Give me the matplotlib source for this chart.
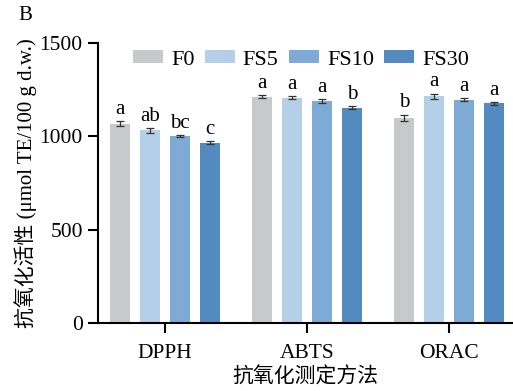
import matplotlib.pyplot as plt
import numpy as np

plt.rcParams['font.family'] = ['Liberation Serif', 'Noto Sans CJK SC']

methods = ['DPPH', 'ABTS', 'ORAC']
groups = ['F0', 'FS5', 'FS10', 'FS30']
values = {
    'F0':   [1068, 1213, 1100],
    'FS5':  [1032, 1208, 1215],
    'FS10': [1000, 1188, 1197],
    'FS30': [966, 1154, 1176],
}
errors = {
    'F0':   [14, 8, 16],
    'FS5':  [12, 6, 14],
    'FS10': [6, 10, 6],
    'FS30': [8, 8, 8],
}
letters = {
    'F0':   ['a', 'a', 'b'],
    'FS5':  ['ab', 'a', 'a'],
    'FS10': ['bc', 'a', 'a'],
    'FS30': ['c', 'b', 'a'],
}
colors = ['#c8c9cb', '#b4cfe8', '#7eabd6', '#538bc1']

fig = plt.figure(figsize=(5.13, 3.91), dpi=100)
ax = fig.add_axes([0.191, 0.174, 0.809, 0.716])

x = np.arange(len(methods))
width = 0.141
offsets = [-0.317, -0.106, 0.106, 0.317]
for g, c, off in zip(groups, colors, offsets):
    ax.bar(x + off, values[g], width, color=c, label=g,
           yerr=errors[g], capsize=3,
           error_kw={'elinewidth': 0.9, 'capthick': 0.9, 'ecolor': '#333333'})
    for xi, v, e, t in zip(x + off, values[g], errors[g], letters[g]):
        ax.text(xi, v + e + 12, t, ha='center', va='bottom', fontsize=15)

ax.set_xlim(-0.472, 2.45)
ax.set_ylim(0, 1500)
ax.set_yticks([0, 500, 1000, 1500])
ax.set_xticks(x)
ax.set_xticklabels(methods)
ax.tick_params(axis='both', labelsize=15.5, width=1.5, length=7.5, direction='out')
ax.tick_params(axis='x', pad=8)
ax.spines['top'].set_visible(False)
ax.spines['right'].set_visible(False)
ax.spines['left'].set_linewidth(1.5)
ax.spines['bottom'].set_linewidth(1.5)

ax.set_xlabel('抗氧化测定方法', fontsize=15, labelpad=3)
ax.set_ylabel('抗氧化活性 (μmol TE/100 g d.w.)', fontsize=15, labelpad=2)

ax.legend(ncol=4, loc='center left', bbox_to_anchor=(0.084, 0.94), frameon=False,
          fontsize=16, handlelength=1.36, handleheight=0.55, columnspacing=0.45,
          handletextpad=0.36, borderaxespad=0, borderpad=0)

fig.text(0.035, 0.985, 'B', fontsize=15, ha='left', va='top')

plt.savefig('out.png', dpi=100)
